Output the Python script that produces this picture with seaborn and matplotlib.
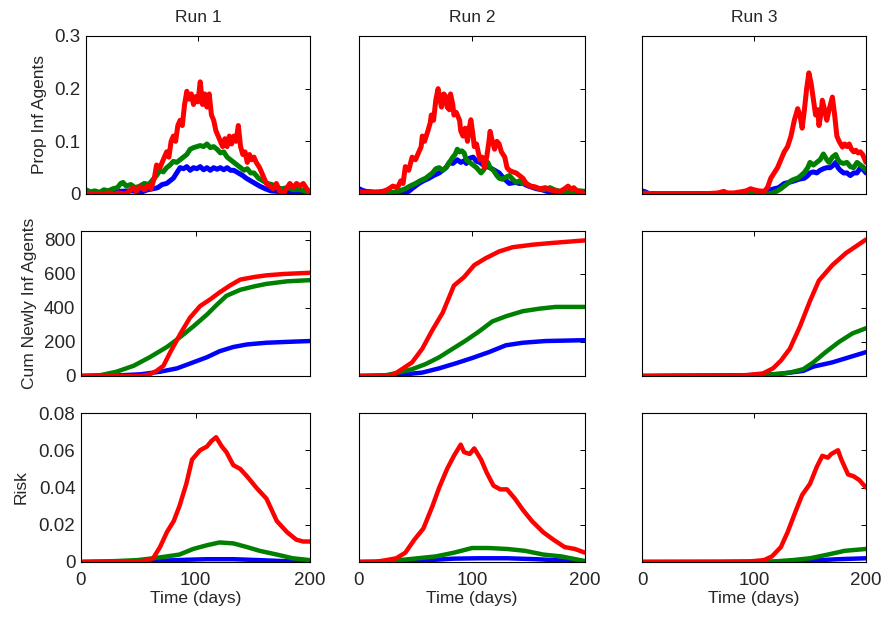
import pandas as pd
import seaborn as sns
import matplotlib
matplotlib.use('Agg')
import matplotlib.pyplot as plt

# Values: (day, value) pairs per run / metric / group

# --- Prop Inf Agents (top row) ---
prop1_blue = [(0, 0.003), (10, 0.002), (20, 0.004), (30, 0.005), (40, 0.006), (50, 0.004), (55, 0.008), (60, 0.01),
              (64, 0.012), (68, 0.018), (72, 0.02), (75, 0.025), (78, 0.03), (81, 0.04), (84, 0.05), (87, 0.048),
              (90, 0.052), (93, 0.045), (96, 0.05), (99, 0.048), (102, 0.052), (105, 0.046), (108, 0.05), (111, 0.045),
              (114, 0.05), (117, 0.047), (120, 0.05), (123, 0.046), (126, 0.05), (129, 0.045), (132, 0.045), (136, 0.04),
              (140, 0.035), (143, 0.03), (147, 0.025), (151, 0.02), (155, 0.015), (160, 0.01), (165, 0.006), (170, 0.005),
              (180, 0.004), (190, 0.003), (200, 0.0)]
prop1_green = [(0, 0.008), (4, 0.004), (8, 0.006), (12, 0.003), (16, 0.008), (20, 0.006), (24, 0.01), (28, 0.012),
               (31, 0.02), (33, 0.022), (36, 0.015), (40, 0.018), (44, 0.012), (48, 0.015), (52, 0.02), (56, 0.018),
               (60, 0.028), (63, 0.035), (66, 0.045), (69, 0.042), (72, 0.05), (75, 0.055), (78, 0.062), (81, 0.06),
               (84, 0.065), (87, 0.07), (90, 0.075), (93, 0.085), (96, 0.088), (99, 0.09), (102, 0.092), (105, 0.09),
               (108, 0.095), (111, 0.088), (114, 0.09), (117, 0.085), (120, 0.078), (123, 0.08), (126, 0.07), (129, 0.065),
               (132, 0.06), (135, 0.055), (138, 0.05), (141, 0.045), (144, 0.048), (147, 0.04), (150, 0.04), (154, 0.03),
               (158, 0.025), (162, 0.02), (166, 0.018), (170, 0.012), (175, 0.01), (180, 0.012), (185, 0.008),
               (190, 0.009), (195, 0.006), (200, 0.003)]
prop1_red = [(0, 0.002), (5, 0.0), (10, 0.001), (15, 0.0), (20, 0.002), (25, 0.0), (30, 0.002), (35, 0.0), (38, 0.004),
             (42, 0.012), (45, 0.005), (48, 0.014), (52, 0.008), (55, 0.016), (58, 0.01), (61, 0.03), (63, 0.055),
             (66, 0.05), (69, 0.065), (72, 0.08), (74, 0.07), (76, 0.1), (78, 0.11), (80, 0.1), (82, 0.13), (84, 0.14),
             (86, 0.13), (88, 0.17), (90, 0.195), (92, 0.18), (94, 0.19), (96, 0.17), (98, 0.185), (100, 0.175),
             (102, 0.213), (104, 0.17), (106, 0.19), (108, 0.165), (110, 0.19), (112, 0.15), (114, 0.14), (116, 0.12),
             (118, 0.11), (120, 0.1), (122, 0.09), (124, 0.105), (126, 0.09), (128, 0.11), (130, 0.095), (132, 0.11),
             (134, 0.1), (136, 0.13), (138, 0.09), (140, 0.075), (142, 0.08), (144, 0.06), (146, 0.075), (148, 0.065),
             (150, 0.07), (152, 0.06), (155, 0.05), (158, 0.035), (161, 0.02), (164, 0.015), (167, 0.01), (170, 0.02),
             (173, 0.005), (176, 0.0), (179, 0.01), (182, 0.02), (185, 0.012), (188, 0.02), (191, 0.015), (194, 0.02),
             (197, 0.01), (200, 0.003)]

prop2_blue = [(0, 0.01), (3, 0.007), (6, 0.005), (12, 0.004), (21, 0.002), (30, 0.001), (36, 0.001), (40, 0.003),
              (44, 0.005), (48, 0.012), (53, 0.02), (57, 0.025), (62, 0.03), (66, 0.035), (71, 0.04), (74, 0.045),
              (77, 0.05), (80, 0.06), (83, 0.058), (87, 0.065), (90, 0.06), (93, 0.063), (95, 0.058), (98, 0.068),
              (101, 0.07), (104, 0.062), (107, 0.06), (110, 0.055), (113, 0.052), (116, 0.05), (120, 0.045), (124, 0.04),
              (128, 0.03), (133, 0.02), (138, 0.022), (142, 0.02), (145, 0.02), (150, 0.015), (157, 0.01), (162, 0.008),
              (166, 0.005), (175, 0.004), (184, 0.003), (192, 0.002), (200, 0.0)]
prop2_green = [(0, 0.002), (10, 0.002), (20, 0.003), (30, 0.003), (36, 0.006), (41, 0.01), (45, 0.015), (50, 0.02),
               (54, 0.025), (59, 0.03), (62, 0.035), (65, 0.04), (68, 0.048), (71, 0.05), (74, 0.045), (77, 0.05),
               (80, 0.06), (83, 0.07), (85, 0.075), (87, 0.085), (89, 0.08), (91, 0.082), (93, 0.078), (95, 0.065),
               (98, 0.06), (101, 0.055), (104, 0.05), (106, 0.045), (108, 0.04), (110, 0.045), (112, 0.052), (114, 0.06),
               (116, 0.05), (119, 0.045), (122, 0.035), (124, 0.03), (127, 0.028), (130, 0.032), (133, 0.035),
               (136, 0.028), (139, 0.022), (142, 0.025), (145, 0.02), (148, 0.02), (152, 0.015), (156, 0.012),
               (160, 0.01), (164, 0.008), (169, 0.012), (173, 0.008), (178, 0.005), (184, 0.004), (190, 0.004),
               (195, 0.006), (200, 0.005)]
prop2_red = [(0, 0.005), (4, 0.003), (8, 0.004), (12, 0.002), (16, 0.004), (21, 0.005), (25, 0.008), (30, 0.015),
             (34, 0.012), (37, 0.025), (39, 0.02), (41, 0.052), (44, 0.045), (47, 0.07), (50, 0.065), (53, 0.08),
             (55, 0.09), (56, 0.11), (58, 0.1), (61, 0.12), (63, 0.135), (64, 0.15), (66, 0.14), (68, 0.179), (70, 0.2),
             (72, 0.175), (73, 0.165), (75, 0.19), (77, 0.185), (78, 0.165), (80, 0.16), (81, 0.19), (83, 0.17),
             (84, 0.15), (86, 0.155), (89, 0.14), (90, 0.12), (92, 0.11), (94, 0.125), (96, 0.1), (98, 0.13),
             (99, 0.141), (101, 0.11), (102, 0.09), (104, 0.095), (106, 0.075), (107, 0.065), (109, 0.07), (111, 0.05),
             (113, 0.07), (115, 0.1), (116, 0.119), (118, 0.1), (120, 0.085), (122, 0.1), (124, 0.095), (126, 0.08),
             (129, 0.07), (131, 0.05), (133, 0.045), (136, 0.042), (139, 0.04), (142, 0.035), (145, 0.03), (148, 0.02),
             (151, 0.015), (155, 0.014), (160, 0.01), (165, 0.012), (169, 0.008), (173, 0.006), (178, 0.005),
             (182, 0.01), (185, 0.015), (188, 0.008), (190, 0.012), (193, 0.006), (196, 0.005), (200, 0.0)]

prop3_blue = [(0, 0.006), (3, 0.004), (6, 0.001), (20, 0.0), (50, 0.001), (80, 0.0), (100, 0.001), (108, 0.002),
              (112, 0.005), (115, 0.008), (118, 0.01), (122, 0.012), (127, 0.02), (131, 0.022), (136, 0.025),
              (140, 0.028), (145, 0.03), (148, 0.035), (150, 0.04), (153, 0.042), (156, 0.04), (159, 0.045),
              (162, 0.048), (165, 0.05), (168, 0.05), (171, 0.055), (173, 0.06), (175, 0.05), (177, 0.045), (180, 0.04),
              (183, 0.04), (186, 0.035), (189, 0.04), (192, 0.04), (195, 0.05), (198, 0.045), (200, 0.04)]
prop3_green = [(0, 0.001), (20, 0.0), (40, 0.001), (60, 0.0), (80, 0.001), (100, 0.0), (110, 0.0), (115, 0.001),
               (118, 0.003), (121, 0.006), (124, 0.01), (127, 0.015), (130, 0.02), (133, 0.025), (136, 0.028),
               (139, 0.03), (142, 0.035), (145, 0.041), (148, 0.05), (150, 0.06), (153, 0.055), (156, 0.06),
               (159, 0.065), (162, 0.076), (165, 0.065), (167, 0.06), (170, 0.07), (173, 0.075), (175, 0.065),
               (177, 0.06), (180, 0.058), (183, 0.06), (186, 0.052), (189, 0.05), (192, 0.06), (195, 0.055),
               (198, 0.05), (200, 0.045)]
prop3_red = [(0, 0.002), (10, 0.0), (20, 0.001), (30, 0.0), (40, 0.001), (50, 0.0), (60, 0.001), (68, 0.002),
             (73, 0.005), (76, 0.002), (82, 0.002), (88, 0.004), (93, 0.006), (97, 0.01), (100, 0.008), (104, 0.006),
             (109, 0.005), (112, 0.012), (115, 0.03), (118, 0.04), (121, 0.05), (124, 0.065), (127, 0.08), (130, 0.09),
             (133, 0.11), (136, 0.14), (139, 0.162), (141, 0.15), (143, 0.125), (145, 0.16), (147, 0.2), (149, 0.23),
             (151, 0.21), (153, 0.18), (155, 0.15), (157, 0.16), (158, 0.13), (160, 0.155), (161, 0.178), (163, 0.16),
             (165, 0.14), (167, 0.16), (170, 0.184), (172, 0.15), (174, 0.11), (176, 0.1), (179, 0.089), (181, 0.095),
             (183, 0.09), (185, 0.095), (187, 0.085), (189, 0.08), (191, 0.083), (193, 0.078), (195, 0.08),
             (197, 0.075), (200, 0.06)]

# --- Cum Newly Inf Agents (middle row) ---
cum1_blue = [(0, 0), (31, 3), (52, 10), (69, 25), (84, 45), (98, 80), (110, 110), (121, 145), (133, 170), (145, 185),
             (162, 195), (180, 200), (200, 205)]
cum1_green = [(0, 0), (17, 5), (31, 25), (46, 60), (60, 110), (75, 170), (87, 230), (98, 290), (110, 360), (119, 420),
              (127, 470), (139, 505), (151, 525), (162, 540), (180, 555), (200, 562)]
cum1_red = [(0, 0), (52, 0), (60, 10), (66, 30), (72, 60), (78, 140), (87, 250), (95, 340), (104, 410), (113, 450),
            (121, 490), (130, 530), (139, 565), (151, 580), (162, 590), (177, 598), (200, 605)]

cum2_blue = [(0, 0), (27, 2), (41, 10), (56, 20), (71, 45), (86, 75), (100, 105), (115, 140), (130, 180), (145, 195),
             (165, 205), (200, 210)]
cum2_green = [(0, 0), (24, 5), (35, 20), (47, 40), (59, 70), (71, 110), (83, 160), (95, 210), (106, 260), (118, 320),
              (130, 350), (145, 380), (160, 395), (174, 405), (200, 405)]
cum2_red = [(0, 0), (24, 0), (31, 10), (38, 40), (47, 80), (56, 160), (65, 270), (74, 370), (84, 530), (93, 580),
            (102, 650), (112, 690), (124, 730), (136, 755), (154, 770), (171, 780), (200, 795)]

cum3_blue = [(0, 0), (96, 5), (123, 12), (144, 30), (153, 55), (170, 80), (185, 110), (200, 140)]
cum3_green = [(0, 0), (96, 3), (117, 10), (132, 20), (144, 40), (153, 80), (164, 140), (176, 200), (188, 250),
              (200, 280)]
cum3_red = [(0, 0), (81, 2), (93, 5), (108, 15), (117, 45), (124, 90), (132, 160), (141, 290), (150, 440),
            (158, 560), (170, 650), (182, 720), (191, 760), (200, 800)]

# --- Risk (bottom row) ---
risk1_blue = [(0, 0), (52, 0.0002), (75, 0.0008), (92, 0.0012), (110, 0.0015), (133, 0.0015), (156, 0.001),
              (180, 0.0004), (200, 0.0)]
risk1_green = [(0, 0), (31, 0.0005), (49, 0.001), (63, 0.002), (75, 0.003), (86, 0.004), (98, 0.007), (110, 0.009),
               (121, 0.0105), (133, 0.01), (145, 0.008), (156, 0.006), (171, 0.004), (185, 0.002), (200, 0.001)]
risk1_red = [(0, 0), (49, 0.0002), (57, 0.0008), (63, 0.002), (69, 0.008), (75, 0.016), (81, 0.022), (86, 0.03),
             (92, 0.042), (97, 0.055), (104, 0.06), (110, 0.062), (114, 0.065), (118, 0.067), (123, 0.062),
             (127, 0.059), (133, 0.052), (139, 0.05), (145, 0.046), (153, 0.04), (162, 0.034), (171, 0.022),
             (180, 0.016), (188, 0.012), (194, 0.011), (200, 0.011)]

risk2_blue = [(0, 0), (36, 0.0002), (62, 0.001), (84, 0.0018), (106, 0.002), (131, 0.002), (157, 0.0015),
              (179, 0.0008), (200, 0.0002)]
risk2_green = [(0, 0), (21, 0.0002), (36, 0.001), (52, 0.002), (68, 0.003), (84, 0.005), (100, 0.0075),
               (115, 0.0075), (131, 0.007), (147, 0.006), (163, 0.004), (179, 0.003), (200, 0.0005)]
risk2_red = [(0, 0), (14, 0.0), (24, 0.001), (33, 0.002), (41, 0.005), (49, 0.012), (57, 0.018), (65, 0.03),
             (71, 0.04), (78, 0.05), (84, 0.057), (90, 0.063), (93, 0.059), (98, 0.058), (102, 0.061), (108, 0.055),
             (113, 0.048), (119, 0.041), (125, 0.039), (131, 0.039), (138, 0.034), (145, 0.028), (153, 0.022),
             (163, 0.016), (172, 0.012), (182, 0.008), (191, 0.007), (200, 0.005)]

risk3_blue = [(0, 0), (134, 0.0002), (153, 0.0008), (175, 0.0015), (200, 0.002)]
risk3_green = [(0, 0), (110, 0.0), (118, 0.0003), (134, 0.001), (150, 0.002), (166, 0.004), (181, 0.006),
               (200, 0.007)]
risk3_red = [(0, 0), (71, 0.0), (96, 0.0003), (109, 0.001), (116, 0.003), (124, 0.008), (130, 0.016), (137, 0.027),
             (143, 0.036), (150, 0.042), (156, 0.051), (161, 0.057), (166, 0.056), (169, 0.058), (175, 0.06),
             (178, 0.055), (184, 0.047), (189, 0.046), (194, 0.044), (200, 0.04)]

runs = ['Run 1', 'Run 2', 'Run 3']
metrics = ['prop', 'cum', 'risk']
groups = ['blue', 'green', 'red']
ylabels = ['Prop Inf Agents', 'Cum Newly Inf Agents', 'Risk']
yticks = [[0, 0.1, 0.2, 0.3], [0, 200, 400, 600, 800], [0, 0.02, 0.04, 0.06, 0.08]]
yticklabels = [['0', '0.1', '0.2', '0.3'], ['0', '200', '400', '600', '800'],
               ['0', '0.02', '0.04', '0.06', '0.08']]
ylims = [(0, 0.3), (0, 850), (0, 0.08)]
xticks = [0, 100, 200]

series = {
    ('prop', 0): [prop1_blue, prop1_green, prop1_red],
    ('prop', 1): [prop2_blue, prop2_green, prop2_red],
    ('prop', 2): [prop3_blue, prop3_green, prop3_red],
    ('cum', 0): [cum1_blue, cum1_green, cum1_red],
    ('cum', 1): [cum2_blue, cum2_green, cum2_red],
    ('cum', 2): [cum3_blue, cum3_green, cum3_red],
    ('risk', 0): [risk1_blue, risk1_green, risk1_red],
    ('risk', 1): [risk2_blue, risk2_green, risk2_red],
    ('risk', 2): [risk3_blue, risk3_green, risk3_red],
}

# long table for seaborn
rows = []
for (metric, run), lists in series.items():
    for grp, pts in zip(groups, lists):
        for t, v in pts:
            rows.append({'metric': metric, 'run': run, 'group': grp, 't': t, 'value': v})
df = pd.DataFrame(rows)

palette = {'blue': '#0000ff', 'green': '#008000', 'red': '#ff0000'}

sns.set_style('white')
plt.rcParams['font.family'] = ['Liberation Sans', 'DejaVu Sans']
plt.rcParams['xtick.direction'] = 'in'
plt.rcParams['ytick.direction'] = 'in'
plt.rcParams['xtick.top'] = True
plt.rcParams['ytick.right'] = True

W, H = 886, 619
fig = plt.figure(figsize=(W / 100, H / 100), dpi=100)

# axes boxes in pixels (left, right) per column and (top, bottom) per row
col_box = [(83, 310), (359, 585), (642, 866)]
row_box = [(36, 194), (231, 376), (413, 562)]
first_left = [86, 81, 81]
line_w = [3.6, 3.2, 3.2]

for r, metric in enumerate(metrics):
    for c in range(3):
        x0, x1 = col_box[c]
        if c == 0:
            x0 = first_left[r]
        y0, y1 = row_box[r]
        ax = fig.add_axes([x0 / W, 1 - y1 / H, (x1 - x0) / W, (y1 - y0) / H])
        sub = df[(df['metric'] == metric) & (df['run'] == c)]
        sns.lineplot(data=sub, x='t', y='value', hue='group', hue_order=groups, palette=palette,
                     estimator=None, sort=False, linewidth=line_w[r], legend=False, ax=ax)
        ax.set_xlim(0, 200)
        ax.set_ylim(*ylims[r])
        ax.set_xticks(xticks)
        ax.set_yticks(yticks[r])
        for s in ax.spines.values():
            s.set_color('black')
            s.set_linewidth(0.8)
        ax.tick_params(length=3.5, width=0.7, color='black', labelsize=13.5, pad=4)
        ax.tick_params(axis='x', pad=7)
        if c == 0:
            ax.set_yticklabels(yticklabels[r])
            ax.set_ylabel(ylabels[r], fontsize=12.5, labelpad=7 if r == 2 else 5)
        else:
            ax.set_yticklabels([])
            ax.set_ylabel('')
        if r == 2:
            ax.set_xticklabels([str(v) for v in xticks])
            ax.set_xlabel('Time (days)', fontsize=12.5, labelpad=2)
        else:
            ax.set_xticklabels([])
            ax.set_xlabel('')
        if r == 0:
            ax.set_title(runs[c], fontsize=12.5, pad=10)

fig.savefig('out.png', dpi=100)
